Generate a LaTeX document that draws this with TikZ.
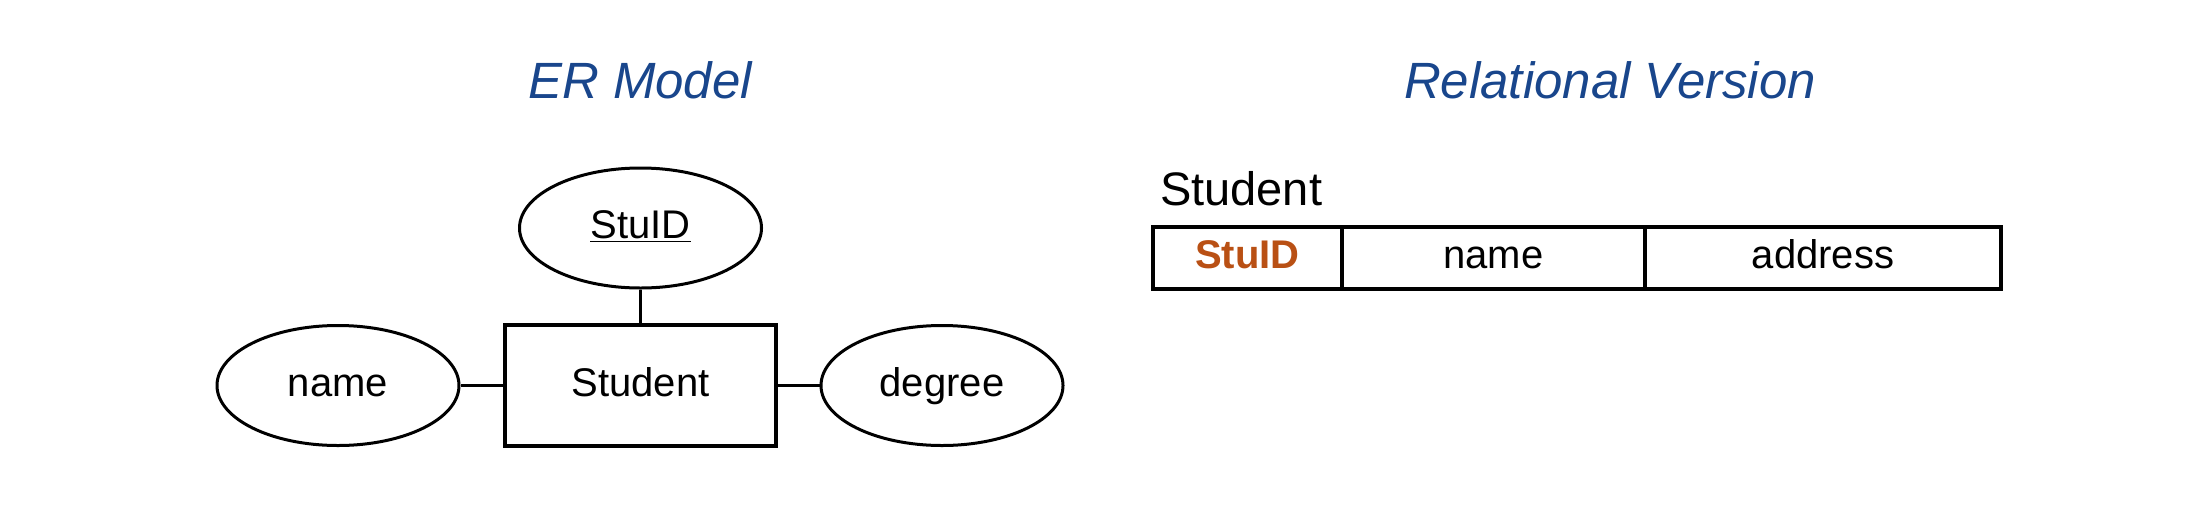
\documentclass[tikz,border=0pt]{standalone}
\usepackage{fontspec}
\setmainfont{Liberation Sans}
\usetikzlibrary{shapes.geometric,positioning}
\definecolor{titleblue}{RGB}{25,70,140}
\definecolor{keyorange}{RGB}{185,80,20}
\tikzset{
  label20/.style={font=\fontsize{20}{24}\selectfont, text height=14.5pt, text depth=4pt},
  attr/.style={draw, ellipse, line width=1.5pt, minimum width=121pt, minimum height=60pt, inner sep=0pt, label20},
  entity/.style={draw, rectangle, line width=1.7pt, minimum width=135.5pt, minimum height=60.5pt, inner sep=0pt, label20},
  cell/.style={draw, rectangle, line width=1.7pt, minimum height=31pt, inner sep=0pt, outer sep=0pt, label20},
  heading/.style={anchor=base, text=titleblue, font=\fontsize{25.5}{30}\selectfont\itshape}
}
\begin{document}
\begin{tikzpicture}[x=0.5pt,y=-0.5pt]
\useasboundingbox (0,0) rectangle (2199,520);
\node[heading] (ertitle) at (640,98) {ER Model};
\node[heading] (reltitle) at (1610,98) {Relational Version};

\node[entity] (student) at (640.5,385.5) {Student};
\node[attr] (stuid) at (640.5,228) {\underline{StuID}};
\node[attr] (name) at (338,385.5) {name};
\node[attr] (degree) at (942,385.5) {degree};
\draw[line width=1.5pt] (stuid) -- (student);
\draw[line width=1.5pt] (name) -- (student);
\draw[line width=1.5pt] (degree) -- (student);

\node[anchor=base west, font=\fontsize{23.5}{28}\selectfont] (tabname) at (1153,205) {Student};
\node[cell, minimum width=94.5pt, text=keyorange, font=\fontsize{20}{24}\selectfont\bfseries] (c1) at (1247.5,258) {StuID};
\node[cell, minimum width=151.5pt, right=0pt of c1] (c2) {name};
\node[cell, minimum width=178pt, right=0pt of c2] (c3) {address};
\end{tikzpicture}
\end{document}
